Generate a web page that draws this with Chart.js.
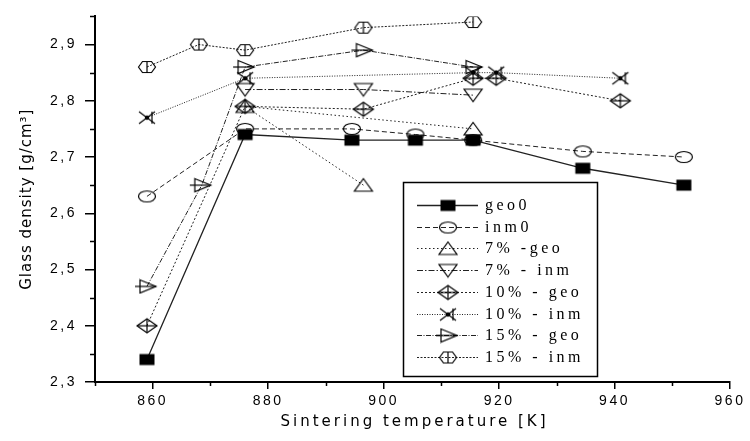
<!DOCTYPE html>
<html>
<head>
<meta charset="utf-8">
<script src="https://cdn.jsdelivr.net/npm/chart.js@4.4.0/dist/chart.umd.min.js"></script>
<style>
  body { margin: 0; background: #fff; }
  canvas { display: block; }
</style>
</head>
<body>
<canvas id="densityChart" width="750" height="441"></canvas>
<script>
// glass density [g/cm3] against sintering temperature [K], one pair of arrays per batch
const seriesLabels = ['geo0', 'inm0', '7% -geo', '7% - inm', '10% - geo', '10% - inm', '15% - geo', '15% - inm'];

const geo0Temp = [859, 876, 894.5, 905.5, 915.5, 934.5, 952];
const geo0Dens = [2.34, 2.74, 2.73, 2.73, 2.73, 2.68, 2.65];
const inm0Temp = [859, 876, 894.5, 905.5, 915.5, 934.5, 952];
const inm0Dens = [2.63, 2.75, 2.75, 2.74, 2.73, 2.71, 2.70];
const geo7Temp = [896.5, 876, 915.5];
const geo7Dens = [2.65, 2.79, 2.75];
const inm7Temp = [876, 896.5, 915.5];
const inm7Dens = [2.82, 2.82, 2.81];
const geo10Temp = [859, 876, 896.5, 915.5, 919.5, 941];
const geo10Dens = [2.40, 2.79, 2.785, 2.84, 2.84, 2.80];
const inm10Temp = [859, 876, 915.5, 919.5, 941];
const inm10Dens = [2.77, 2.84, 2.85, 2.85, 2.84];
const geo15Temp = [859, 868.5, 876, 896.5, 915.5];
const geo15Dens = [2.47, 2.65, 2.86, 2.89, 2.86];
const inm15Temp = [859, 868, 876, 896.5, 915.5];
const inm15Dens = [2.86, 2.90, 2.89, 2.93, 2.94];

const xTicks = [860, 880, 900, 920, 940, 960];
const yTicks = [2.3, 2.4, 2.5, 2.6, 2.7, 2.8, 2.9];

// small canvases used as point styles (and reused in the legend)
function marker(w, h, paint) {
  const c = document.createElement('canvas');
  c.width = w;
  c.height = h;
  const g = c.getContext('2d');
  g.translate(w / 2, h / 2);
  g.strokeStyle = '#000';
  g.fillStyle = '#000';
  g.lineWidth = 1.2;
  paint(g);
  return c;
}
function poly(g, pts) {
  g.beginPath();
  pts.forEach(([x, y], i) => (i ? g.lineTo(x, y) : g.moveTo(x, y)));
  g.closePath();
  g.stroke();
}
function seg(g, x1, y1, x2, y2) {
  g.beginPath();
  g.moveTo(x1, y1);
  g.lineTo(x2, y2);
  g.stroke();
}

const squareMark = marker(18, 14, g => g.fillRect(-7.5, -5.5, 15, 11));
const circleMark = marker(20, 14, g => {
  g.beginPath();
  g.ellipse(0, 0, 8.5, 5.5, 0, 0, Math.PI * 2);
  g.stroke();
});
const triUpMark = marker(22, 16, g => poly(g, [[0, -6.5], [9, 6], [-9, 6]]));
const triDownMark = marker(22, 16, g => poly(g, [[0, 6.5], [9, -6], [-9, -6]]));
const diamondMark = marker(24, 18, g => {
  poly(g, [[0, -7], [10, 0], [0, 7], [-10, 0]]);
  seg(g, -10, 0, 10, 0);
  seg(g, 0, -7, 0, 7);
});
const crossMark = marker(22, 16, g => {
  seg(g, -8, -6, 8, 6);
  seg(g, -8, 6, 8, -6);
  seg(g, 5, -6, 5, 6);
  g.beginPath();
  g.arc(0, 0, 1.6, 0, Math.PI * 2);
  g.stroke();
});
const triRightMark = marker(26, 16, g => {
  poly(g, [[-7, -6.5], [9, 0], [-7, 6.5]]);
  seg(g, -12, 0, 9, 0);
});
const hexMark = marker(20, 14, g => {
  poly(g, [[-8.5, 0], [-4.5, -5.5], [4.5, -5.5], [8.5, 0], [4.5, 5.5], [-4.5, 5.5]]);
  seg(g, 0, -5.5, 0, 5.5);
});

function points(xs, ys) {
  return xs.map((x, i) => ({ x: x, y: ys[i] }));
}

function series(i, xs, ys, mark, dash, width) {
  return {
    label: seriesLabels[i],
    data: points(xs, ys),
    showLine: true,
    borderColor: '#222',
    borderWidth: width || 1,
    borderDash: dash,
    pointStyle: mark,
    pointRadius: 8,
    pointHoverRadius: 8,
    tension: 0
  };
}

const datasets = [
  series(0, geo0Temp, geo0Dens, squareMark, [], 1.3),
  series(1, inm0Temp, inm0Dens, circleMark, [5, 3]),
  series(2, geo7Temp, geo7Dens, triUpMark, [1.5, 2.5]),
  series(3, inm7Temp, inm7Dens, triDownMark, [6, 2, 1.5, 2]),
  series(4, geo10Temp, geo10Dens, diamondMark, [2, 2]),
  series(5, inm10Temp, inm10Dens, crossMark, [1, 1.5]),
  series(6, geo15Temp, geo15Dens, triRightMark, [5, 1.5, 1, 1.5]),
  series(7, inm15Temp, inm15Dens, hexMark, [2, 1.5])
];

// minor ticks, axis titles and the boxed legend
const decorations = {
  id: 'decorations',
  beforeUpdate(chart) {
    chart.ctx.letterSpacing = '2.5px';
  },
  beforeDraw(chart) {
    const ctx = chart.ctx;
    ctx.save();
    ctx.fillStyle = '#fff';
    ctx.fillRect(0, 0, chart.width, chart.height);
    ctx.restore();
    ctx.letterSpacing = '2.5px';
  },
  afterDraw(chart) {
    const { ctx, chartArea: area, scales: { x, y } } = chart;
    ctx.save();
    ctx.strokeStyle = '#000';
    ctx.lineWidth = 1.5;
    ctx.setLineDash([]);
    for (let v = 850; v < 960; v += 20) {
      const px = Math.round(x.getPixelForValue(v)) + 0.5;
      seg(ctx, px, area.bottom, px, area.bottom + 4);
    }
    for (let v = 2.35; v < 2.96; v += 0.1) {
      const py = Math.round(y.getPixelForValue(v)) + 0.5;
      seg(ctx, area.left - 5, py, area.left, py);
    }

    ctx.fillStyle = '#000';
    ctx.textAlign = 'center';
    ctx.textBaseline = 'middle';
    ctx.font = '15px "DejaVu Sans"';
    ctx.letterSpacing = '3px';
    ctx.fillText('Sintering temperature [K]', (area.left + area.right) / 2 + 2, 422);

    ctx.save();
    ctx.translate(27, (area.top + area.bottom) / 2);
    ctx.rotate(-Math.PI / 2);
    ctx.font = '15px "DejaVu Sans"';
    ctx.letterSpacing = '1px';
    ctx.fillText('Glass density [g/cm³]', 0, 0);
    ctx.restore();

    // legend box
    ctx.lineWidth = 1.5;
    ctx.strokeRect(403.5, 182.5, 194, 194);
    ctx.textAlign = 'left';
    ctx.font = '16px "Liberation Serif"';
    ctx.letterSpacing = '3.5px';
    chart.data.datasets.forEach((ds, i) => {
      const rowY = Math.round(205 + i * 21.7) + 0.5;
      ctx.lineWidth = ds.borderWidth;
      ctx.strokeStyle = ds.borderColor;
      ctx.setLineDash(ds.borderDash);
      seg(ctx, 417, rowY, 478, rowY);
      ctx.setLineDash([]);
      const m = ds.pointStyle;
      ctx.drawImage(m, 448 - m.width / 2, rowY - m.height / 2);
      ctx.fillStyle = '#000';
      ctx.fillText(ds.label, 485, rowY);
    });
    ctx.restore();
  }
};

new Chart(document.getElementById('densityChart'), {
  type: 'scatter',
  data: { datasets: datasets },
  options: {
    responsive: false,
    animation: false,
    devicePixelRatio: 1,
    layout: { padding: { top: 14, right: 20, left: 0, bottom: 0 } },
    plugins: {
      legend: { display: false },
      tooltip: { enabled: false }
    },
    scales: {
      x: {
        type: 'linear',
        min: 850,
        max: 960,
        afterBuildTicks: s => { s.ticks = xTicks.map(v => ({ value: v })); },
        afterFit: s => { s.height = 59; },
        grid: { display: true, drawOnChartArea: false, drawTicks: true, tickLength: 7, color: '#000', lineWidth: 1.5 },
        border: { display: true, color: '#000', width: 2 },
        ticks: {
          color: '#000',
          padding: 4,
          maxRotation: 0,
          font: { family: '"Liberation Sans"', size: 14 },
          callback: v => String(v)
        }
      },
      y: {
        type: 'linear',
        min: 2.3,
        max: 2.95,
        afterBuildTicks: s => { s.ticks = yTicks.map(v => ({ value: v })); },
        afterFit: s => { s.width = 95; },
        grid: { display: true, drawOnChartArea: false, drawTicks: true, tickLength: 10, color: '#000', lineWidth: 1.5 },
        border: { display: true, color: '#000', width: 2 },
        ticks: {
          color: '#000',
          padding: 8,
          font: { family: '"Liberation Sans"', size: 14 },
          callback: v => v.toFixed(1).replace('.', ',')
        }
      }
    }
  },
  plugins: [decorations]
});
</script>
</body>
</html>
